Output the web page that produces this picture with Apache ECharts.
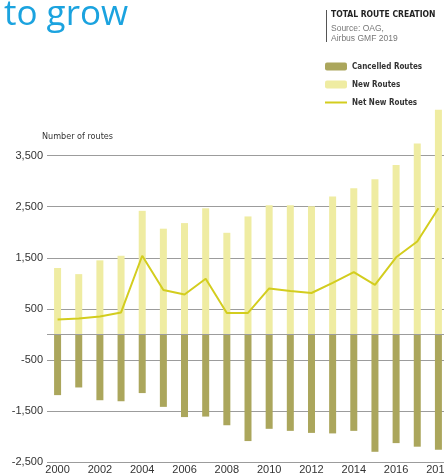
<!DOCTYPE html>
<html>
<head>
<meta charset="utf-8">
<script src="https://cdn.jsdelivr.net/npm/echarts@6/dist/echarts.min.js"></script>
<style>
  html, body { margin: 0; padding: 0; background: #fff; }
  #chart { width: 444px; height: 475px; }
</style>
</head>
<body>
<div id="chart"></div>
<script>
// data
const years = ['2000', '2001', '2002', '2003', '2004', '2005', '2006', '2007', '2008', '2009',
  '2010', '2011', '2012', '2013', '2014', '2015', '2016', '2017', '2018']
const newRoutes = [1300, 1180, 1450, 1540, 2420, 2070, 2180, 2470, 1990, 2310,
  2530, 2530, 2510, 2700, 2860, 3040, 3320, 3740, 4400]
const cancelledRoutes = [-1190, -1040, -1290, -1310, -1150, -1420, -1620, -1610, -1780, -2090,
  -1850, -1890, -1930, -1940, -1890, -2300, -2130, -2200, -2260]
const netNewRoutes = [290, 310, 350, 430, 1540, 870, 780, 1090, 420, 420,
  900, 850, 810, 1010, 1220, 970, 1510, 1820, 2470]

const narrow = '"DejaVu Sans Condensed", "Liberation Sans", sans-serif'
const chart = echarts.init(document.getElementById('chart'))

const option = {
  animation: false,
  title: [
    {
      text: 'to grow',
      left: -1,
      top: -7,
      textStyle: { fontFamily: '"Open Sans", sans-serif', fontSize: 35, fontWeight: 'normal', color: '#1ba3df' }
    },
    {
      text: 'TOTAL ROUTE CREATION',
      subtext: 'Source: OAG,\nAirbus GMF 2019',
      left: 326,
      top: 10,
      padding: [0, 0, 0, 5],
      itemGap: 5,
      textStyle: { fontFamily: narrow, fontSize: 8.5, fontWeight: 'bold', color: '#222' },
      subtextStyle: { fontFamily: '"Liberation Sans", sans-serif', fontSize: 8.5, color: '#777', lineHeight: 10 }
    }
  ],
  graphic: [
    {
      type: 'line',
      shape: { x1: 326.5, y1: 10, x2: 326.5, y2: 42 },
      style: { stroke: '#555', lineWidth: 1 }
    }
  ],
  legend: {
    orient: 'vertical',
    left: 324,
    top: 61,
    padding: 0,
    itemWidth: 22,
    itemHeight: 8,
    itemGap: 7,
    data: ['Cancelled Routes', 'New Routes', { name: 'Net New Routes', itemStyle: { opacity: 0 } }],
    textStyle: { fontFamily: narrow, fontSize: 8, fontWeight: 'bold', color: '#333', lineHeight: 11 }
  },
  grid: { left: 47, top: 155.7, width: 402, bottom: 13, outerBoundsMode: 'none' },
  xAxis: {
    type: 'category',
    data: years,
    axisLine: { show: false },
    axisTick: { show: false },
    axisLabel: { interval: 1, margin: 2, fontFamily: '"Liberation Sans", sans-serif', fontSize: 11, color: '#333' }
  },
  yAxis: {
    type: 'value',
    min: -2500,
    max: 3500,
    interval: 1000,
    name: 'Number of routes',
    nameLocation: 'end',
    nameGap: 15,
    nameTextStyle: { align: 'left', padding: [0, 0, 0, -5], fontFamily: narrow, fontSize: 9, color: '#333' },
    axisLine: { show: false },
    axisTick: { show: false },
    axisLabel: {
      margin: 4,
      fontFamily: '"Liberation Sans", sans-serif',
      fontSize: 11,
      color: '#333',
      formatter: v => v.toLocaleString('en-US')
    },
    splitLine: { lineStyle: { color: '#9c9c9c', width: 1 } }
  },
  series: [
    {
      name: 'Cancelled Routes',
      type: 'bar',
      stack: 'routes',
      barWidth: 7,
      itemStyle: { color: '#aba65c' },
      data: cancelledRoutes,
      markLine: {
        silent: true,
        symbol: 'none',
        label: { show: false },
        lineStyle: { color: '#9c9c9c', type: 'solid', width: 1 },
        data: [{ yAxis: 0 }]
      }
    },
    {
      name: 'New Routes',
      type: 'bar',
      stack: 'routes',
      barWidth: 7,
      clip: false,
      itemStyle: { color: '#efeca2' },
      data: newRoutes
    },
    {
      name: 'Net New Routes',
      type: 'line',
      symbol: 'none',
      lineStyle: { color: '#d3cd1e', width: 2 },
      itemStyle: { color: '#d3cd1e' },
      data: netNewRoutes
    }
  ]
}

chart.setOption(option)
</script>
</body>
</html>
